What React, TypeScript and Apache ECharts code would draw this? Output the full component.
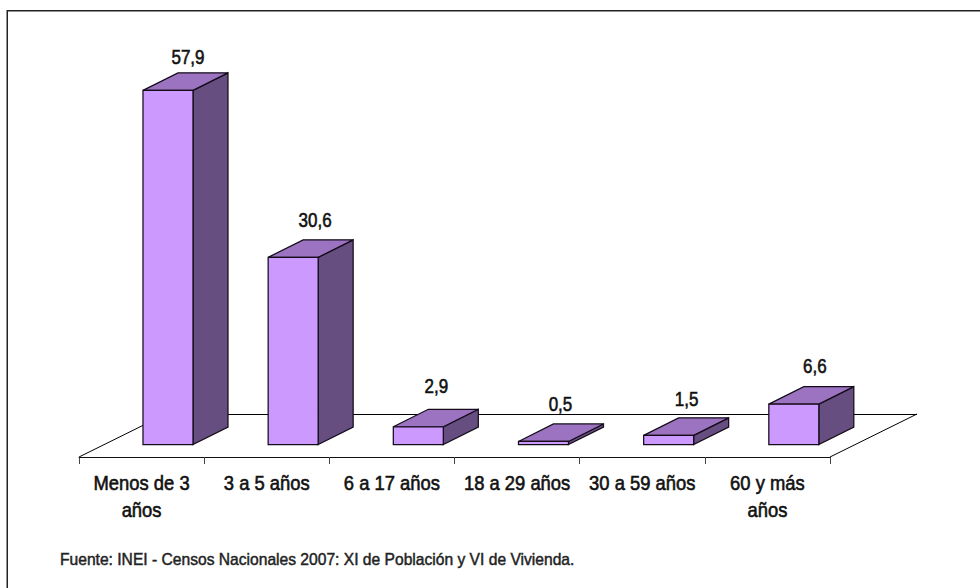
import React, { useEffect, useRef } from "react";
import * as echarts from "echarts";

const categories = ["Menos de 3\naños", "3 a 5 años", "6 a 17 años", "18 a 29 años", "30 a 59 años", "60 y más\naños"];
const values = [57.9, 30.6, 2.9, 0.5, 1.5, 6.6];
const valueLabels = ["57,9", "30,6", "2,9", "0,5", "1,5", "6,6"];
const footnote = "Fuente: INEI - Censos Nacionales 2007: XI de Población y VI de Vivienda.";

const FONT = '"Liberation Sans", Arial, sans-serif';
const labelNudgeX = [1, 3, -1, -2, -1, 2];
const labelNudgeY = [3, -1, -5, -1, 0, -2];

export default function App() {
  const ref = useRef<HTMLDivElement>(null);
  useEffect(() => {
    document.body.style.margin = "0";
    const chart = echarts.init(ref.current!, undefined, { renderer: "svg" });
    const shiftX = 26.4, shiftY = -12.5, halfW = 25, depthX = 35, depthY = -17.5;
    const textStroke = { stroke: "#111", lineWidth: 0.6 };
    chart.setOption({
      animation: false,
      backgroundColor: "#ffffff",
      grid: { left: 79, top: 90, width: 751, height: 367 },
      xAxis: {
        type: "category",
        data: categories,
        axisLine: { lineStyle: { color: "#111", width: 1 } },
        axisTick: { show: true, length: 7, alignWithLabel: false, lineStyle: { color: "#444" } },
        axisLabel: { show: false },
      },
      yAxis: { type: "value", min: 0, max: 60, show: false, splitLine: { show: false } },
      graphic: [
        { type: "line", shape: { x1: 7.25, y1: 10.75, x2: 980, y2: 10.75 }, style: { stroke: "#222", lineWidth: 1.5 }, z: 0 },
        { type: "line", shape: { x1: 7.25, y1: 10, x2: 7.25, y2: 588 }, style: { stroke: "#222", lineWidth: 1.5 }, z: 0 },
        { type: "line", shape: { x1: 79, y1: 457, x2: 166, y2: 414 }, style: { stroke: "#000", lineWidth: 1 }, z: 1 },
        { type: "line", shape: { x1: 166, y1: 414.5, x2: 917, y2: 414.5 }, style: { stroke: "#000", lineWidth: 1 }, z: 1 },
        { type: "line", shape: { x1: 830, y1: 457, x2: 917, y2: 414 }, style: { stroke: "#000", lineWidth: 1 }, z: 1 },
        { type: "text", x: 60, y: 559, scaleX: 0.977, style: { text: footnote, fontFamily: FONT, fontSize: 16, fontWeight: "normal", fill: "#222", stroke: "#222", lineWidth: 0.45, textVerticalAlign: "middle" }, z: 5 },
      ],
      series: [
        {
          type: "custom",
          coordinateSystem: "cartesian2d",
          data: values.map((v, i) => [i, v]),
          z: 3,
          renderItem: (params: any, api: any) => {
            const i = api.value(0), v = api.value(1);
            const n = params.dataIndex;
            const b = api.coord([i, 0]), t = api.coord([i, v]);
            const cx = b[0] + shiftX;
            const L = cx - halfW, R = cx + halfW;
            const B = b[1] + shiftY, T = t[1] + shiftY;
            const line = { stroke: "#140c1a", lineWidth: 1.25 };
            return {
              type: "group",
              children: [
                { type: "polygon", shape: { points: [[R, T], [R + depthX, T + depthY], [R + depthX, B + depthY], [R, B]] }, style: { fill: "#664e80", ...line } },
                { type: "polygon", shape: { points: [[L, T], [L + depthX, T + depthY], [R + depthX, T + depthY], [R, T]] }, style: { fill: "#9c73c0", ...line } },
                { type: "rect", shape: { x: L, y: T, width: R - L, height: B - T }, style: { fill: "#cc99ff", ...line } },
                { type: "text", x: cx + 19 + labelNudgeX[n], y: T - 36 + labelNudgeY[n], scaleX: 0.85, style: { text: valueLabels[n], fontFamily: FONT, fontSize: 20, fill: "#111", ...textStroke, textAlign: "center", textVerticalAlign: "middle" } },
                { type: "text", x: b[0], y: 470, scaleX: 0.92, style: { text: categories[n], fontFamily: FONT, fontSize: 20, fill: "#111", ...textStroke, lineHeight: 27, textAlign: "center", textVerticalAlign: "top" } },
              ],
            };
          },
        },
      ],
    });
    return () => chart.dispose();
  }, []);
  return <div ref={ref} style={{ width: 980, height: 588 }} />;
}
